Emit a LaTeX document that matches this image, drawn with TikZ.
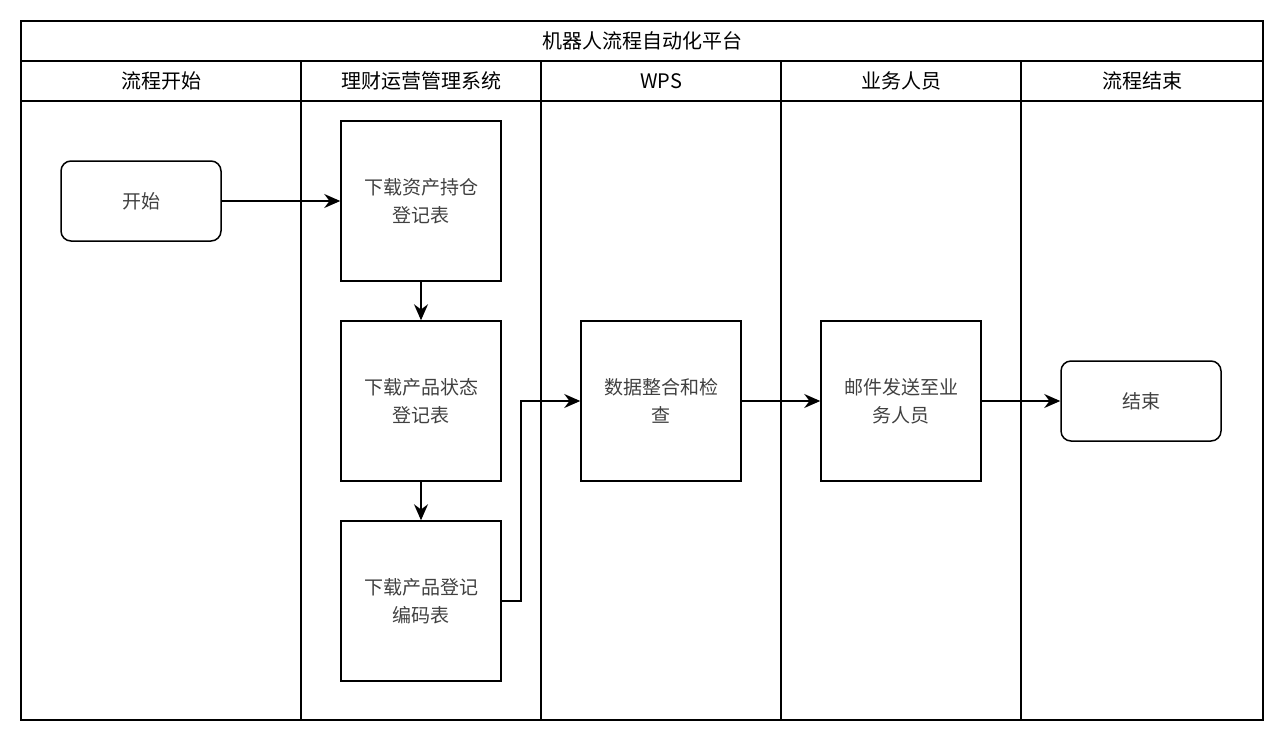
\documentclass[tikz,border=0pt]{standalone}
\usepackage{fontspec}
\setmainfont{Noto Sans CJK SC}
\usetikzlibrary{arrows.meta}
\begin{document}
\begin{tikzpicture}[x=1pt,y=-1pt,line width=1.5pt,
  box/.style={draw,minimum width=160pt,minimum height=160pt,align=center,font=\fontsize{19}{28}\selectfont,text=black!75,inner sep=0pt},
  term/.style={draw,rounded corners=10pt,minimum width=160pt,minimum height=80pt,font=\fontsize{19}{28}\selectfont,text=black!75},
  hd/.style={font=\fontsize{20}{24}\selectfont},
  arr/.style={-{Stealth[length=16pt,width=14pt]}}]
\useasboundingbox (0,0) rectangle (1284,742);
\draw (21,21) rectangle (1263,720);
\draw (21,61) -- (1263,61) (21,101) -- (1263,101);
\foreach \x in {301,541,781,1021} \draw (\x,61) -- (\x,720);
\node[hd] (t) at (642,41) {机器人流程自动化平台};
\node[hd] (h1) at (161,81) {流程开始};
\node[hd] (h2) at (421,81) {理财运营管理系统};
\node[hd] (h3) at (661,81) {WPS};
\node[hd] (h4) at (901,81) {业务人员};
\node[hd] (h5) at (1142,81) {流程结束};
\node[term] (s) at (141,201) {开始};
\node[box] (b1) at (421,201) {下载资产持仓\\登记表};
\node[box] (b2) at (421,401) {下载产品状态\\登记表};
\node[box] (b3) at (421,601) {下载产品登记\\编码表};
\node[box] (b4) at (661,401) {数据整合和检\\查};
\node[box] (b5) at (901,401) {邮件发送至业\\务人员};
\node[term] (e) at (1141,401) {结束};
\coordinate (c1) at (521,601);
\coordinate (c2) at (521,401);
\draw[arr] (s) -- (b1);
\draw[arr] (b1) -- (b2);
\draw[arr] (b2) -- (b3);
\draw[arr] (b3.east) -- (c1) -- (c2) -- (b4.west);
\draw[arr] (b4) -- (b5);
\draw[arr] (b5) -- (e);
\end{tikzpicture}
\end{document}
